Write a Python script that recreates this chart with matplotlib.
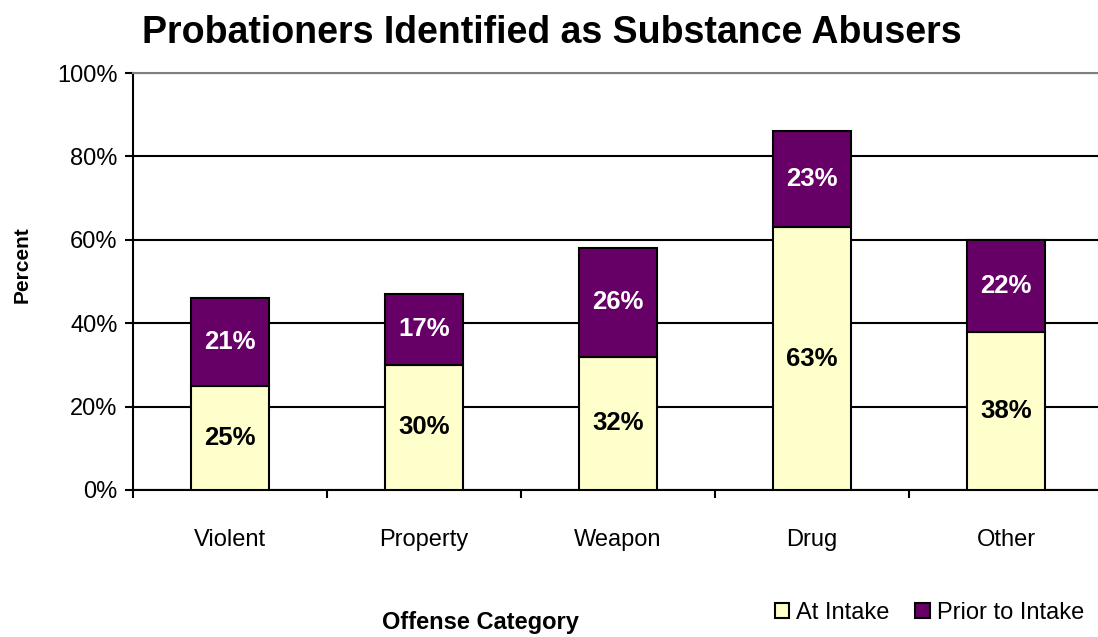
import matplotlib
matplotlib.use("Agg")
import matplotlib.pyplot as plt
import numpy as np

plt.rcParams['font.family'] = ['Liberation Sans', 'DejaVu Sans']

categories = ["Violent", "Property", "Weapon", "Drug", "Other"]
at_intake = [25, 30, 32, 63, 38]
prior_to_intake = [21, 17, 26, 23, 22]
series_names = ["At Intake", "Prior to Intake"]

fig = plt.figure(figsize=(10.98, 6.37), dpi=100)
ax = fig.add_axes([133 / 1098, 147 / 637, 970 / 1098, 417 / 637])

x = np.arange(len(categories))
w = 0.4
lower = ax.bar(x, at_intake, w, color="#FFFFCC", edgecolor="black", linewidth=1.5, zorder=3,
               label=series_names[0])
upper = ax.bar(x, prior_to_intake, w, bottom=at_intake, color="#660066", edgecolor="black",
               linewidth=1.5, zorder=3, label=series_names[1])

# value labels in the middle of each segment
for i in range(len(categories)):
    ax.text(x[i], at_intake[i] / 2, "%d%%" % at_intake[i], ha="center", va="center",
            fontsize=18.5, fontweight="bold", color="black", zorder=4)
    ax.text(x[i], at_intake[i] + prior_to_intake[i] / 2, "%d%%" % prior_to_intake[i],
            ha="center", va="center", fontsize=18.5, fontweight="bold", color="white", zorder=4)

ax.set_xlim(-0.5, len(categories) - 0.5)
ax.set_ylim(0, 100)
ax.set_yticks(range(0, 101, 20))
ax.set_yticklabels(["%d%%" % v for v in range(0, 101, 20)], fontsize=17)
ax.yaxis.grid(True, color="black", linewidth=1.5, zorder=0)
ax.set_axisbelow(True)

ax.set_xticks(x)
ax.set_xticklabels(categories, fontsize=17)
ax.set_xticks(np.arange(-0.5, len(categories), 1), minor=True)
ax.tick_params(axis="x", which="major", length=0, pad=28)
ax.tick_params(axis="x", which="minor", length=6, width=1.5, direction="out")
ax.tick_params(axis="y", length=6, width=1.5, direction="out", pad=5)

for side in ["left", "bottom"]:
    ax.spines[side].set_color("black")
    ax.spines[side].set_linewidth(1.5)
for side in ["top", "right"]:
    ax.spines[side].set_color("#808080")
    ax.spines[side].set_linewidth(1.5)

fig.text(552 / 1098, 1 - 33 / 637, "Probationers Identified as Substance Abusers",
         ha="center", va="center", fontsize=27, fontweight="bold")
fig.text(22 / 1098, 1 - 265 / 637, "Percent", rotation=90, ha="center", va="center",
         fontsize=15, fontweight="bold")
fig.text(480 / 1098, 1 - 622 / 637, "Offense Category", ha="center", va="center",
         fontsize=17, fontweight="bold")

fig.legend(handles=[lower, upper], loc="center right", bbox_to_anchor=(1.0, 1 - 613 / 637),
           ncol=2, frameon=False, fontsize=17, handlelength=0.6, handleheight=0.6,
           handletextpad=0.3, columnspacing=1.1, borderaxespad=0.2)

fig.savefig("out.png", dpi=100)
